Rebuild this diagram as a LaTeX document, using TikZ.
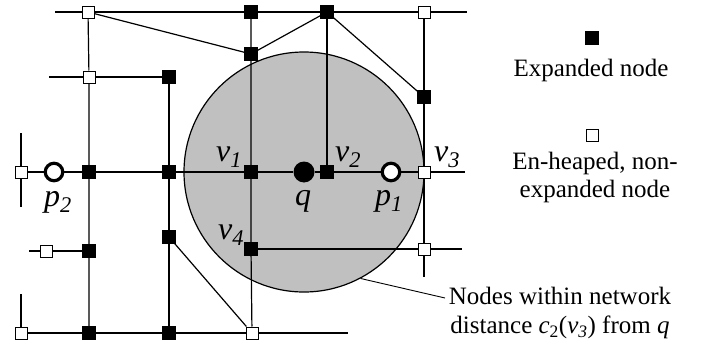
\documentclass[tikz,border=0pt]{standalone}
\usepackage{fontspec}
\setmainfont{Liberation Serif}
\definecolor{regiongray}{RGB}{192,192,192}
\newcommand\sublab[2]{#1\textsubscript{#2}}
\begin{document}
\begin{tikzpicture}[x=1pt,y=-1pt,
  edge/.style={line width=1.2pt},
  bsq/.style={draw=black,fill=black,minimum size=12.5pt,inner sep=0pt,line width=0.6pt},
  wsq/.style={draw=black,fill=white,minimum size=12pt,inner sep=0pt,line width=1pt},
  ppt/.style={circle,draw=black,fill=white,line width=3.2pt,minimum size=17.5pt,inner sep=0pt},
  qpt/.style={circle,fill=black,minimum size=21pt,inner sep=0pt},
  lab/.style={font=\fontsize{32}{34}\selectfont\itshape,anchor=base,inner sep=0pt},
  leg/.style={font=\fontsize{25}{28.5}\selectfont,align=center,inner sep=0pt}]
\useasboundingbox (0,0) rectangle (702,348);
% region
\node[circle,draw=black,fill=regiongray,line width=1.2pt,minimum size=240pt,inner sep=0pt] (reg) at (304,172) {};
% nodes
\node[wsq] (A1) at (88,12) {};
\node[bsq] (A2) at (251,12) {};
\node[bsq] (A3) at (327,12) {};
\node[wsq] (A4) at (424,12) {};
\node[bsq] (B) at (251,54) {};
\node[bsq] (C) at (424,97) {};
\node[wsq] (D) at (89,77) {};
\node[bsq] (E) at (169,77) {};
\node[wsq] (F) at (21,172) {};
\node[ppt] (p2) at (54,172) {};
\node[bsq] (G) at (89,172) {};
\node[bsq] (H) at (169,172) {};
\node[bsq] (v1) at (251,172) {};
\node[qpt] (q) at (304,172) {};
\node[bsq] (v2) at (327,172) {};
\node[ppt] (p1) at (391,172) {};
\node[wsq] (v3) at (424,172) {};
\node[wsq] (I) at (46,251) {};
\node[bsq] (J) at (89,251) {};
\node[bsq] (K) at (169,237) {};
\node[bsq] (v4) at (251,249) {};
\node[wsq] (L) at (424,249) {};
\node[wsq] (M) at (21,333) {};
\node[bsq] (N) at (89,333) {};
\node[bsq] (O) at (169,333) {};
\node[wsq] (P) at (252,333) {};
% free ends
\coordinate (tl) at (55,12);
\coordinate (tr) at (467,12);
\coordinate (dl) at (49,77);
\coordinate (mr) at (465,172);
\coordinate (ft) at (21,133);
\coordinate (fb) at (21,207);
\coordinate (il) at (29,251);
\coordinate (lr) at (462,249);
\coordinate (re) at (424,277);
\coordinate (mt) at (21,294);
\coordinate (br) at (348,333);
\coordinate (ldr) at (445,298);
% edges
\draw[edge] (tl) -- (A1) -- (A2) -- (A3) -- (A4) -- (tr);
\draw[edge] (A1) -- (B) -- (A3) -- (C);
\draw[edge] (A2) -- (B) -- (v1) -- (v4) -- (P);
\draw[edge] (A3) -- (v2);
\draw[edge] (A4) -- (C) -- (v3) -- (L) -- (re);
\draw[edge] (A1) -- (D) -- (G) -- (J) -- (N);
\draw[edge] (dl) -- (D) -- (E) -- (H) -- (K) -- (O);
\draw[edge] (F) -- (p2) -- (G) -- (H) -- (v1) -- (q) -- (v2) -- (p1) -- (v3) -- (mr);
\draw[edge] (ft) -- (F) -- (fb);
\draw[edge] (il) -- (I) -- (J);
\draw[edge] (v4) -- (L) -- (lr);
\draw[edge] (mt) -- (M) -- (N) -- (O) -- (P) -- (br);
\draw[edge] (K) -- (P);
\draw[line width=0.9pt] (reg.-62.6) -- (ldr);
% labels
\node[lab] (lv1) at (229,161) {\sublab{v}{1}};
\node[lab] (lv2) at (348,161) {\sublab{v}{2}};
\node[lab] (lv3) at (447,161) {\sublab{v}{3}};
\node[lab] (lv4) at (231,239) {\sublab{v}{4}};
\node[lab] (lq) at (303,205) {q};
\node[lab] (lp1) at (389,205) {\sublab{p}{1}};
\node[lab] (lp2) at (58,206) {\sublab{p}{2}};
% legend
\node[bsq] (kb) at (592,38) {};
\node[leg,anchor=base] (kbt) at (591,76) {Expanded node};
\node[wsq] (kw) at (592,135) {};
\node[leg] (kwt) at (595,177.7) {En-heaped, non-\\expanded node};
\node[leg] (kr) at (560,313.2) {Nodes within network\\distance \textit{c}\textsubscript{2}(\textit{v}\textsubscript{\textit{3}}) from \textit{q}};
\end{tikzpicture}
\end{document}
